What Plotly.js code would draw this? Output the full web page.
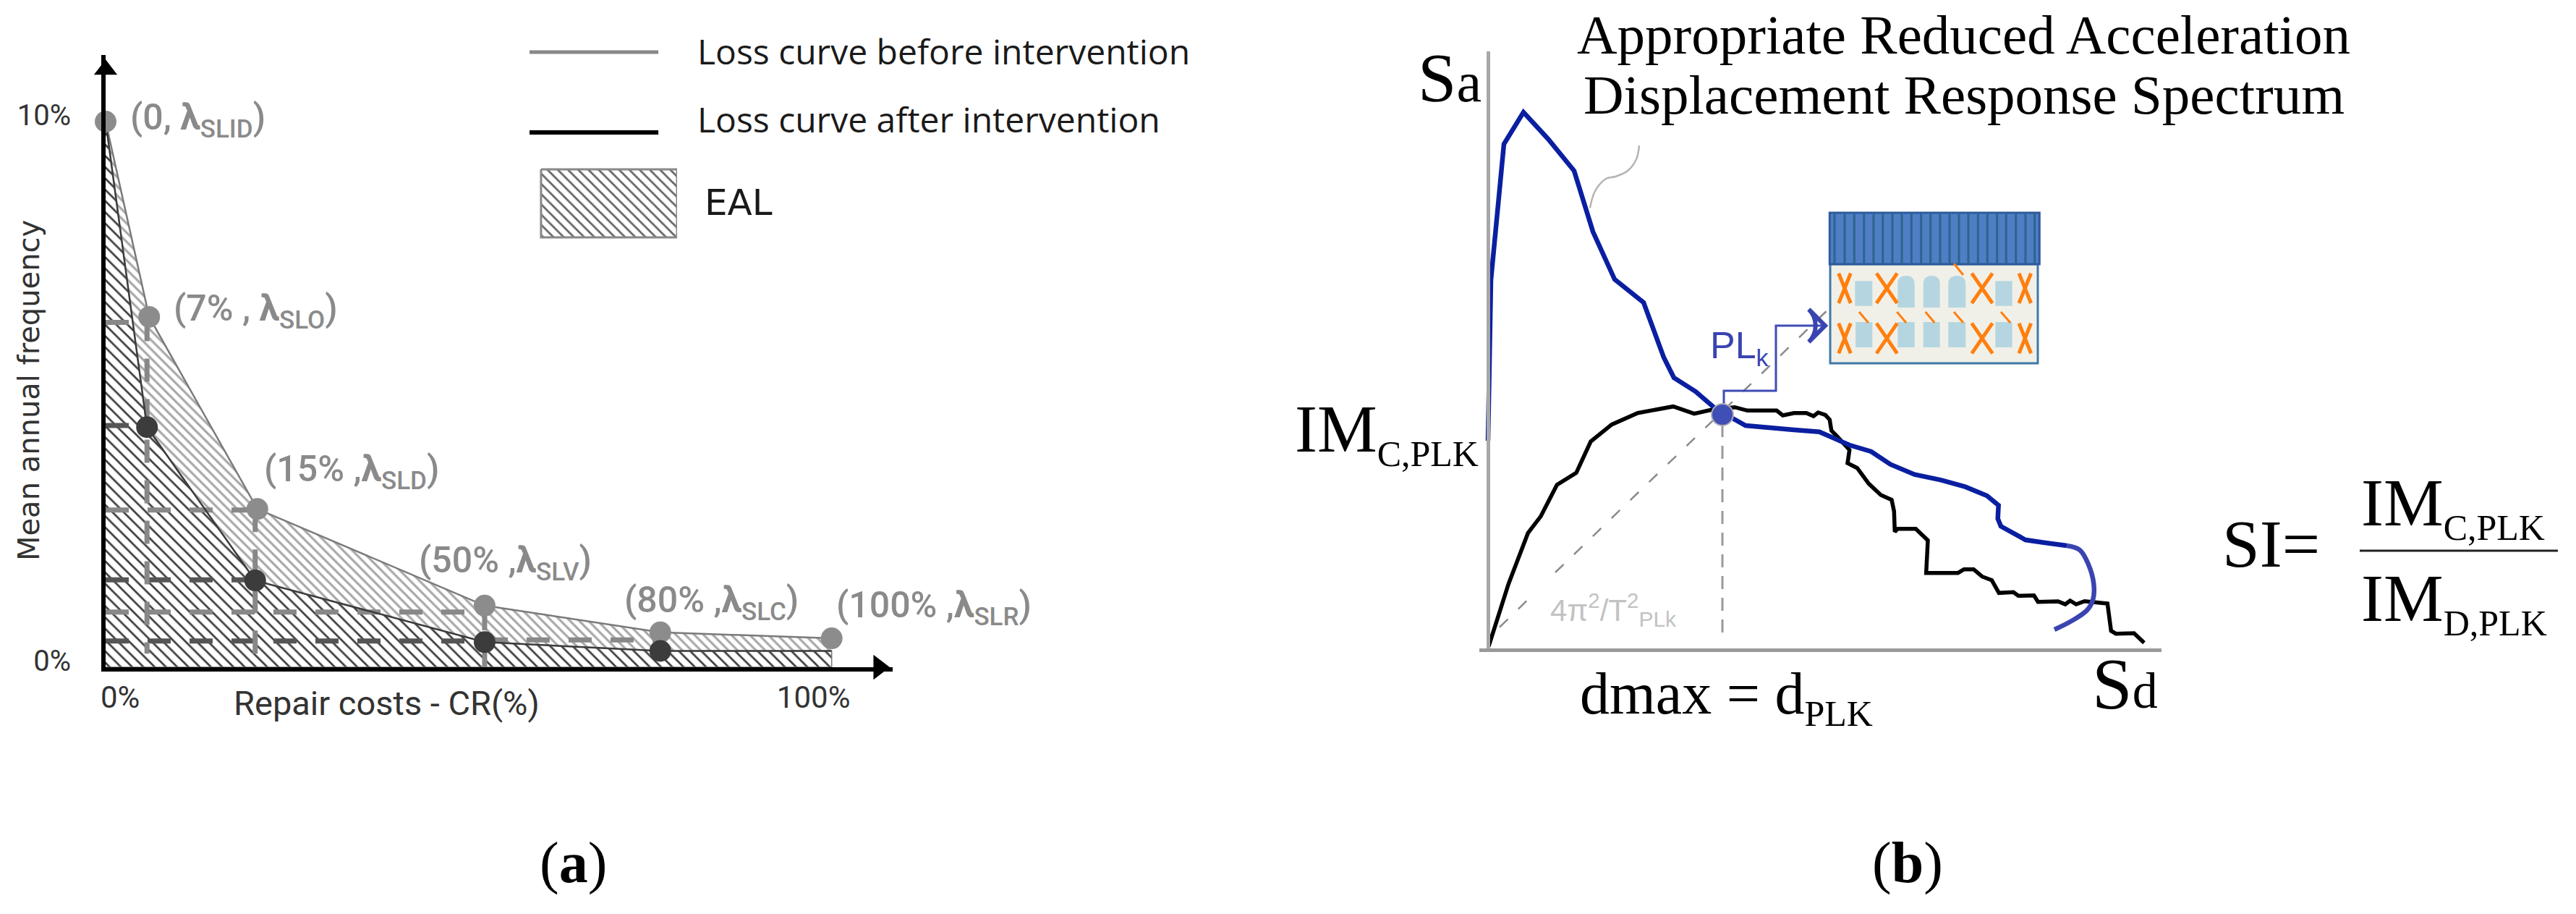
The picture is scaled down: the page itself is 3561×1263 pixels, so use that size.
<!DOCTYPE html>
<html><head><meta charset="utf-8">
<script src="https://cdn.plot.ly/plotly-3.0.1.min.js"></script>
<style>html,body{margin:0;padding:0;background:#fff}#c{width:3561px;height:1263px}</style></head>
<body><div id="c"></div>
<script>
// ---------- panel (a) data: x = repair costs (%), y = mean annual frequency (%)
var beforeX = [0, 6.0, 20.9, 52.2, 76.4, 100];
var beforeY = [10, 6.42, 2.9, 1.13, 0.64, 0.53];
var afterX  = [0, 5.7, 20.6, 52.2, 76.4, 100];
var afterY  = [10, 4.4, 1.59, 0.46, 0.3, 0.3];
var afterDotX = [5.7, 20.6, 52.2, 76.4];
var afterDotY = [4.4, 1.59, 0.46, 0.3];
var dashGrayH = [[0,5.7,6.32],[0,20.9,2.88],[0,52.2,1.01],[52.2,76.4,0.5]];
var dashDarkH = [[0,5.7,4.43],[0,20.6,1.6],[0,52.2,0.48]];
var dashGrayV = [[5.7,6.4,0.25],[20.6,2.9,0.1],[52.2,1.1,0]];
var pointLabels = ['(0, <b>λ</b><sub>SLID</sub>)','(7% , <b>λ</b><sub>SLO</sub>)','(15% ,<b>λ</b><sub>SLD</sub>)','(50% ,<b>λ</b><sub>SLV</sub>)','(80% ,<b>λ</b><sub>SLC</sub>)','(100% ,<b>λ</b><sub>SLR</sub>)'];
var legendLabels = ['Loss curve before intervention','Loss curve after intervention','EAL'];
var yTicks = [0,10], yTickText = ['0%','10%'];
var xTicks = [2,97.5], xTickText = ['0%','100%'];

// ---------- panel (b) data: x = Sd, y = Sa (schematic units)
var demandX = [0,0.4,2.2,4.9,8.3,11.9,14.5,17.5,21.5,24.3,25.7,28.7,32.4,33.8,35.6,42.3,45.8,47.3,49.97,52.97,55.63,58.97,62.63,65.97,68.97,70.57,70.47,70.9,74.3,77,80];
var demandY = [28.7,50.9,69.7,74.1,70.4,66,57.6,51,47.8,40.2,37.4,35.5,32.3,31.8,30.8,30.2,29.93,29.27,28.1,27.2,25.43,24.03,23.27,22.33,21.1,19.77,17.93,16.87,15,14.6,14.2];
var tailX = [80,81.8,83,83.73,83.63,82.8,80.63,78.3];
var tailY = [14.2,13.6,11.6,8.93,6.77,5.27,3.77,2.6];
var capacityX = [0.08,2.84,5.52,7.3,9.53,12.2,14.2,17.1,20.7,25.6,28.5,31,34.1,35.85,39.9,40.75,42.3,44,45,45.63,46.63,47.23,47.47,48.13,49.97,49.7,51.03,52.63,54.3,55.8,56.13,56.23,56.63,59.13,60.8,60.57,64.97,65.8,67.13,68.3,69.63,70.63,72.63,73.3,75.47,76.03,78.8,79.8,80.47,81.3,82.47,85.63,86.13,86.8,89.3,90.7];
var capacityY = [0.27,8.93,15.93,18.27,22.6,24.27,28.6,30.93,32.53,33.43,32.43,33,33.33,32.87,32.87,32.2,32.53,32.53,32.1,32.6,32.27,31.6,30.1,29.43,27.43,25.6,24.93,22.77,21.2,20.53,18.93,16.1,16.53,16.53,14.93,10.43,10.43,10.93,10.93,9.93,9.43,7.67,7.77,7.27,7.33,6.43,6.5,6.1,6.6,6.1,6.53,6.2,2.43,2.03,2.1,0.77];
var perfX = [32.4], perfY = [32.3];
var calloutX = [14.1,14.8,16.3,17.6,19.3,20.5,20.9], calloutY = [60.87,63.2,64.9,65.2,66,67.6,69.5];
var stepX = [32.6,32.6,39.8,39.8,46.3], stepY = [33.6,35.6,35.6,44.6,44.6];
var diagLowX = [1.6,5.88], diagLowY = [2.93,7.1];
var diagHighX = [9.3,47.5], diagHighY = [10.5,47.3];
var dropX = [32.4,32.4], dropY = [31,1.6];

// building icon (same schematic units)
var roofStripes = [47.9,49.3,50.63,51.97,53.3,54.57,55.9,57.2,58.53,59.87,61.17,62.5,63.8,65.1,66.4,67.73,69.03,70.37,71.63,72.97,74.3,75.57];
var squareWinRow1 = [[50.73,53.13],[70.13,72.47]];
var archWinRow1 = [[56.63,58.97],[60.17,62.47],[63.63,66.03]];
var squareWinRow2 = [[50.8,53.13],[56.63,58.97],[60.17,62.47],[63.63,66.03],[70.13,72.47]];
var crossCols = [[49.3,0.83],[55.13,1.43],[68.3,1.43],[74.23,0.83]];
var crossRows = [[47.7,51.83],[40.77,44.93]];
var crackSegs = [[64.4,65.7,53.17,51.6],[51.3,52.57,46.5,45],[56.53,57.8,46.5,45],[60.47,61.73,46.5,45],[64.4,65.7,46.5,45],[70.9,72.2,46.5,45]];

// ---------- helpers
var W = 3561, H = 1263;
var fx = function(p){return p/W;}, fy = function(p){return 1-p/H;};
function T(text,px,py,size,opts){opts=opts||{};
  var font={family:opts.f||'Liberation Serif',size:size,color:opts.c||'#000'};
  if(opts.w) font.weight=opts.w;
  return {text:text,xref:'paper',yref:'paper',x:fx(px),y:fy(py),showarrow:false,
    xanchor:opts.a||'left',yanchor:opts.v||'middle',textangle:opts.r||0,align:opts.a||'left',font:font};}

var grayMk='#8c8c8c', darkMk='#3c3c3c', dashGray='#888888', dashDark='#555555';
function segTrace(x,y,color,w,dash){return {type:'scatter',mode:'lines',x:x,y:y,xaxis:'x',yaxis:'y',cliponaxis:false,hoverinfo:'skip',line:{color:color,width:w,dash:dash||'solid'}};}

var traces = [];
// hatch areas
traces.push({type:'scatter',mode:'none',x:beforeX.concat(afterX.slice().reverse()),y:beforeY.concat(afterY.slice().reverse()),fill:'toself',
  fillcolor:'rgba(0,0,0,0)',fillpattern:{shape:'\\',fgcolor:'#a8a8a8',bgcolor:'#fff',size:9,solidity:0.35},hoverinfo:'skip'});
traces.push({type:'scatter',mode:'lines',x:afterX.concat([100,0]),y:afterY.concat([0,0]),fill:'toself',line:{color:'#777',width:1.5},
  fillcolor:'rgba(0,0,0,0)',fillpattern:{shape:'\\',fgcolor:'#404040',bgcolor:'#fff',size:11,solidity:0.25},hoverinfo:'skip'});
// dashes
dashGrayH.forEach(function(s){traces.push(segTrace([s[0],s[1]],[s[2],s[2]],dashGray,7,'32px,26px'));});
dashDarkH.forEach(function(s){traces.push(segTrace([s[0],s[1]],[s[2],s[2]],dashDark,7,'32px,26px'));});
dashGrayV.forEach(function(s){traces.push(segTrace([s[0],s[0]],[s[1],s[2]],dashGray,7,'32px,24px'));});
// curves
traces.push(segTrace(beforeX,beforeY,'#7a7a7a',2.5));
traces.push(segTrace(afterX,afterY,'#3c3c3c',2.5));
traces.push({type:'scatter',mode:'markers',x:beforeX,y:beforeY,cliponaxis:false,marker:{color:grayMk,size:30},hoverinfo:'skip',name:'before'});
traces.push({type:'scatter',mode:'markers',x:afterDotX,y:afterDotY,cliponaxis:false,marker:{color:darkMk,size:30},hoverinfo:'skip'});
// axis arrows
traces.push({type:'scatter',mode:'markers',x:[0],y:[10.95],cliponaxis:false,marker:{symbol:'triangle-up',color:'#000',size:28},hoverinfo:'skip'});
traces.push({type:'scatter',mode:'markers',x:[106.5],y:[0],cliponaxis:false,marker:{symbol:'triangle-right',color:'#000',size:30},hoverinfo:'skip'});
// legend swatches, on their own hidden axes
function lgTrace(x,y,color,w){return {type:'scatter',mode:'lines',x:x,y:y,xaxis:'x3',yaxis:'y3',cliponaxis:false,hoverinfo:'skip',line:{color:color,width:w}};}
traces.push(lgTrace([0,0.873],[0.893,0.893],'#888',5));
traces.push(lgTrace([0,0.873],[0.523,0.523],'#000',6));
traces.push({type:'scatter',mode:'lines',x:[0.078,1,1,0.078,0.078],y:[0.353,0.353,0.04,0.04,0.353],xaxis:'x3',yaxis:'y3',fill:'toself',cliponaxis:false,line:{color:'#888',width:3},
  fillcolor:'rgba(0,0,0,0)',fillpattern:{shape:'\\',fgcolor:'#666',bgcolor:'#fff',size:10,solidity:0.28},hoverinfo:'skip'});

// panel b
function bTrace(x,y,color,w,dash,shape){return {type:'scatter',mode:'lines',x:x,y:y,xaxis:'x2',yaxis:'y2',cliponaxis:false,hoverinfo:'skip',line:{color:color,width:w,dash:dash||'solid',shape:shape||'linear',simplify:false}};}
traces.push(bTrace(diagLowX,diagLowY,'#8a8a8a',2.5,'16px,20px'));
traces.push(bTrace(diagHighX,diagHighY,'#8a8a8a',2.5,'16px,20px'));
traces.push(bTrace(dropX,dropY,'#999',3,'18px,12px'));
traces.push(bTrace(calloutX,calloutY,'#b4b4b4',2.5,'solid','spline'));
traces.push(bTrace(capacityX,capacityY,'#000',5.5));
traces.push(bTrace(tailX,tailY,'#3a44b0',6.5,'solid','spline'));
traces.push(bTrace(demandX,demandY,'#0a1fa0',6.5));
traces.push(bTrace(stepX,stepY,'#3f4cb5',3));
traces.push({type:'scatter',mode:'markers',x:[46.6],y:[44.6],xaxis:'x2',yaxis:'y2',cliponaxis:false,hoverinfo:'skip',marker:{symbol:'arrow-wide-open',angle:90,size:32,color:'#3a44b0',line:{color:'#3a44b0',width:6}}});
traces.push({type:'scatter',mode:'markers',x:perfX,y:perfY,xaxis:'x2',yaxis:'y2',cliponaxis:false,hoverinfo:'skip',marker:{color:'#3f4fb5',size:30,line:{color:'#b0b0b0',width:2}}});

// building: shapes in panel-b data space
var shapes = [];
function R(x0,x1,y0,y1,fill,lc,lw){shapes.push({type:'rect',xref:'x2',yref:'y2',x0:x0,x1:x1,y0:y0,y1:y1,fillcolor:fill,line:{color:lc||fill,width:lw||0},layer:'above'});}
function L(x0,x1,y0,y1,c,w){shapes.push({type:'line',xref:'x2',yref:'y2',x0:x0,x1:x1,y0:y0,y1:y1,line:{color:c,width:w},layer:'above'});}
R(47.3,76.0,39.4,53.1,'#f1f0e8','#3f78a8',3);
R(47.23,76.23,53.1,60.2,'#4f7ec4','#2f5a9c',3);
roofStripes.forEach(function(x){L(x,x,53.1,60.2,'#2a6590',3);});
squareWinRow1.forEach(function(w){R(w[0],w[1],47.33,50.77,'#b5d6e0');});
archWinRow1.forEach(function(w){var m=(w[0]+w[1])/2;
  shapes.push({type:'path',xref:'x2',yref:'y2',layer:'above',fillcolor:'#b5d6e0',line:{width:0},
   path:'M '+w[0]+' 47.1 L '+w[0]+' 50.3 Q '+w[0]+' 51.5 '+m+' 51.5 Q '+w[1]+' 51.5 '+w[1]+' 50.3 L '+w[1]+' 47.1 Z'});});
squareWinRow2.forEach(function(w){R(w[0],w[1],41.6,45.1,'#b5d6e0');});
crossCols.forEach(function(c){crossRows.forEach(function(r){
  L(c[0]-c[1],c[0]+c[1],r[0],r[1],'#ff7f0e',5);L(c[0]-c[1],c[0]+c[1],r[1],r[0],'#ff7f0e',5);});});
crackSegs.forEach(function(s){L(s[0],s[1],s[2],s[3],'#ff7f0e',3);});
// fraction bar
shapes.push({type:'line',xref:'paper',yref:'paper',x0:fx(3262),x1:fx(3536),y0:fy(761),y1:fy(761),line:{color:'#222',width:3}});

var sansA='Roboto', gr='#8a8a8a', ptSize=50;
var sub=function(s,z){return '<sub><span style="font-size:'+z+'px">'+s+'</span></sub>';};
var ann = [
 T(pointLabels[0],178,166,ptSize,{f:sansA,c:gr,w:500}),
 T(pointLabels[1],238,430,ptSize,{f:sansA,c:gr,w:500}),
 T(pointLabels[2],363,652,ptSize,{f:sansA,c:gr,w:500}),
 T(pointLabels[3],577,778,ptSize,{f:sansA,c:gr,w:500}),
 T(pointLabels[4],861,833,ptSize,{f:sansA,c:gr,w:500}),
 T(pointLabels[5],1154,840,ptSize,{f:sansA,c:gr,w:500}),
 T(legendLabels[0],962,70,48,{f:'Open Sans',c:'#1a1a1a'}),
 T(legendLabels[1],962,164,48,{f:'Open Sans',c:'#1a1a1a'}),
 T(legendLabels[2],972,280,50,{f:'DejaVu Sans',c:'#1a1a1a'}),
 T('Mean annual frequency',40,540,40,{f:'DejaVu Sans',c:'#333',r:-90,a:'center'}),
 T('Repair costs - CR(%)',534,971,47,{f:'Roboto',c:'#333',a:'center'}),
 T('(<b>a</b>)',792,1192,80,{a:'center'}),
 T('(<b>b</b>)',2637,1192,80,{a:'center'}),
 T('Appropriate Reduced Acceleration',2714,48,77,{a:'center'}),
 T('Displacement Response Spectrum',2715,131,77,{a:'center'}),
 T('S<span style="font-size:78px">a</span>',2050,108,96,{a:'right'}),
 T('IM'+sub('C,PLK',50),2046,598,93,{a:'right'}),
 T('dmax = d'+sub('PLK',50),2386,963,82,{a:'center'}),
 T('S<span style="font-size:70px">d</span>',2937,944,100,{a:'center'}),
 T('PL'+sub('k',34),2362,481,52,{f:'Liberation Sans',c:'#3a44b0'}),
 T('4π<sup>2</sup>/T<sup>2</sup>'+sub('PLk',30),2141,842,42,{f:'Liberation Sans',c:'#c2c2c2'}),
 T('SI=',3070,751,93),
 T('IM'+sub('C,PLK',50),3262,700,93),
 T('IM'+sub('D,PLK',50),3262,832,93)
];

var layout = {
  width:W,height:H,margin:{l:0,r:0,t:0,b:0},paper_bgcolor:'#fff',plot_bgcolor:'rgba(0,0,0,0)',showlegend:false,
  xaxis:{domain:[fx(146),fx(1234)],range:[0,108.4],showgrid:false,zeroline:false,showline:true,linecolor:'#000',linewidth:6,
    tickmode:'array',tickvals:xTicks,ticktext:xTickText,ticks:'',ticklabelstandoff:0,tickfont:{family:'Roboto',size:42,color:'#333'}},
  yaxis:{domain:[fy(922),fy(76)],range:[0,11.22],showgrid:false,zeroline:false,showline:true,linecolor:'#000',linewidth:6,
    tickmode:'array',tickvals:yTicks,ticktext:yTickText,ticks:'',ticklabelstandoff:34,ticklabelshift:-9,tickfont:{family:'Roboto',size:40,color:'#333'}},
  xaxis2:{domain:[fx(2045),fx(2988)],range:[-1.2,93.1],anchor:'y2',showgrid:false,zeroline:false,showline:true,linecolor:'#9a9a9a',linewidth:5,showticklabels:false,ticks:''},
  yaxis2:{domain:[fy(896),fy(71)],range:[0,82.5],anchor:'free',position:fx(2057),showgrid:false,zeroline:false,showline:true,linecolor:'#a8a8a8',linewidth:5,showticklabels:false,ticks:''},
  xaxis3:{domain:[fx(732),fx(936)],range:[0,1],anchor:'y3',visible:false},
  yaxis3:{domain:[fy(340),fy(40)],range:[0,1],anchor:'x3',visible:false},
  shapes:shapes,annotations:ann
};
Plotly.newPlot('c',traces,layout,{displayModeBar:false});
</script></body></html>
